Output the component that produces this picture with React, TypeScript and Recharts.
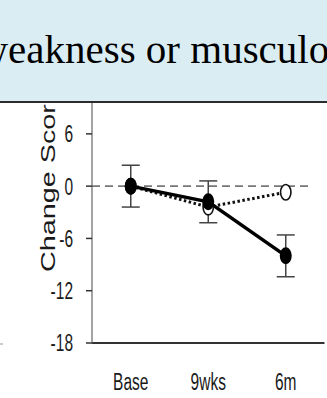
import React from 'react';
import { LineChart, Line, XAxis, YAxis, ErrorBar, ReferenceLine } from 'recharts';

const categories = ['Base', '9wks', '6m'];
const filledValues = [0, -1.8, -8.0];
const filledErrors = [2.4, 2.4, 2.4];
const openValues = [0, -2.4, -0.7];
const yTicks = [-18, -12, -6, 0, 6];
const headerText = 'weakness or musculoskeletal';
const yLabel = 'Change Score';

const data = categories.map((c, i) => ({
  name: c,
  filled: filledValues[i],
  err: filledErrors[i],
  open: openValues[i],
}));

const SANS = '"Liberation Sans", Arial, sans-serif';
const STRETCH = 1.5;

const YTick = (props: any) => {
  const { x, y, payload } = props;
  return (
    <text
      transform={`translate(${x},${y}) scale(1,${STRETCH})`}
      textAnchor="end"
      dy="0.36em"
      fontFamily={SANS}
      fontSize={15.5}
      fill="#1a1a1a"
    >
      {payload.value}
    </text>
  );
};

const XTick = (props: any) => {
  const { x, y, payload } = props;
  return (
    <text
      transform={`translate(${x},${y}) scale(1,${STRETCH})`}
      textAnchor="middle"
      dy="0.72em"
      fontFamily={SANS}
      fontSize={15.5}
      fill="#1a1a1a"
    >
      {payload.value}
    </text>
  );
};

const FilledDot = (props: any) => {
  const { cx, cy } = props;
  if (cx == null || cy == null) return null;
  return <ellipse cx={cx} cy={cy} rx={6} ry={8.5} fill="#000" />;
};

const OpenDot = (props: any) => {
  const { cx, cy } = props;
  if (cx == null || cy == null) return null;
  return <ellipse cx={cx} cy={cy} rx={5.2} ry={7.8} fill="#fff" stroke="#111" strokeWidth={1.6} />;
};

const YLabel = (props: any) => {
  const { viewBox } = props;
  const cx = viewBox.x + 55;
  const cy = viewBox.y + viewBox.height / 2 - 41;
  return (
    <text
      transform={`translate(${cx},${cy}) scale(1,1.37) rotate(-90)`}
      textAnchor="middle"
      fontFamily={SANS}
      fontSize={21}
      fill="#1a1a1a"
    >
      {yLabel}
    </text>
  );
};

const RefShape = (p: any) => (
  <line
    x1={p.x1}
    y1={p.y1}
    x2={p.x2 - 11.5}
    y2={p.y2}
    stroke="#777"
    strokeWidth={1.6}
    strokeDasharray="8 5"
  />
);

export default function App() {
  return (
    <div style={{ position: 'absolute', left: 0, top: 0, width: 327, height: 398, overflow: 'hidden', background: '#fff' }}>
      <LineChart
        width={327}
        height={398}
        data={data}
        margin={{ top: 99, right: 2.5, left: 0, bottom: 0 }}
      >
        <XAxis
          dataKey="name"
          scale="band"
          height={55}
          axisLine={{ stroke: '#333', strokeWidth: 2 }}
          tickLine={false}
          tickSize={0}
          tickMargin={30}
          tick={<XTick />}
          interval={0}
        />
        <YAxis
          type="number"
          width={92}
          domain={[-18, 10]}
          ticks={yTicks}
          allowDataOverflow
          axisLine={{ stroke: '#666', strokeWidth: 1.2 }}
          tickLine={{ stroke: '#333', strokeWidth: 1.5 }}
          tickSize={6}
          tickMargin={13}
          tick={<YTick />}
          label={{ content: YLabel }}
        />
        <ReferenceLine y={0} shape={RefShape} />
        <Line
          dataKey="open"
          stroke="#111"
          strokeWidth={3}
          strokeDasharray="2.5 2.5"
          dot={<OpenDot />}
          activeDot={false}
          isAnimationActive={false}
        />
        <Line
          dataKey="filled"
          stroke="#000"
          strokeWidth={3.5}
          dot={<FilledDot />}
          activeDot={false}
          isAnimationActive={false}
        >
          <ErrorBar dataKey="err" width={9} stroke="#444" strokeWidth={1.5} />
        </Line>
      </LineChart>
      <svg width={327} height={398} style={{ position: 'absolute', left: 0, top: 0, pointerEvents: 'none' }}>
        <rect x={0} y={0} width={327} height={101} fill="#daedf3" />
        <line x1={0} y1={102} x2={327} y2={102} stroke="#2b2b2b" strokeWidth={2} />
        <text x={-21.5} y={63} fontFamily='"Liberation Serif", "Times New Roman", serif' fontSize={41} fill="#000">
          {headerText}
        </text>
        <line x1={0} y1={344} x2={3} y2={344} stroke="#999" strokeWidth={1} />
      </svg>
    </div>
  );
}
